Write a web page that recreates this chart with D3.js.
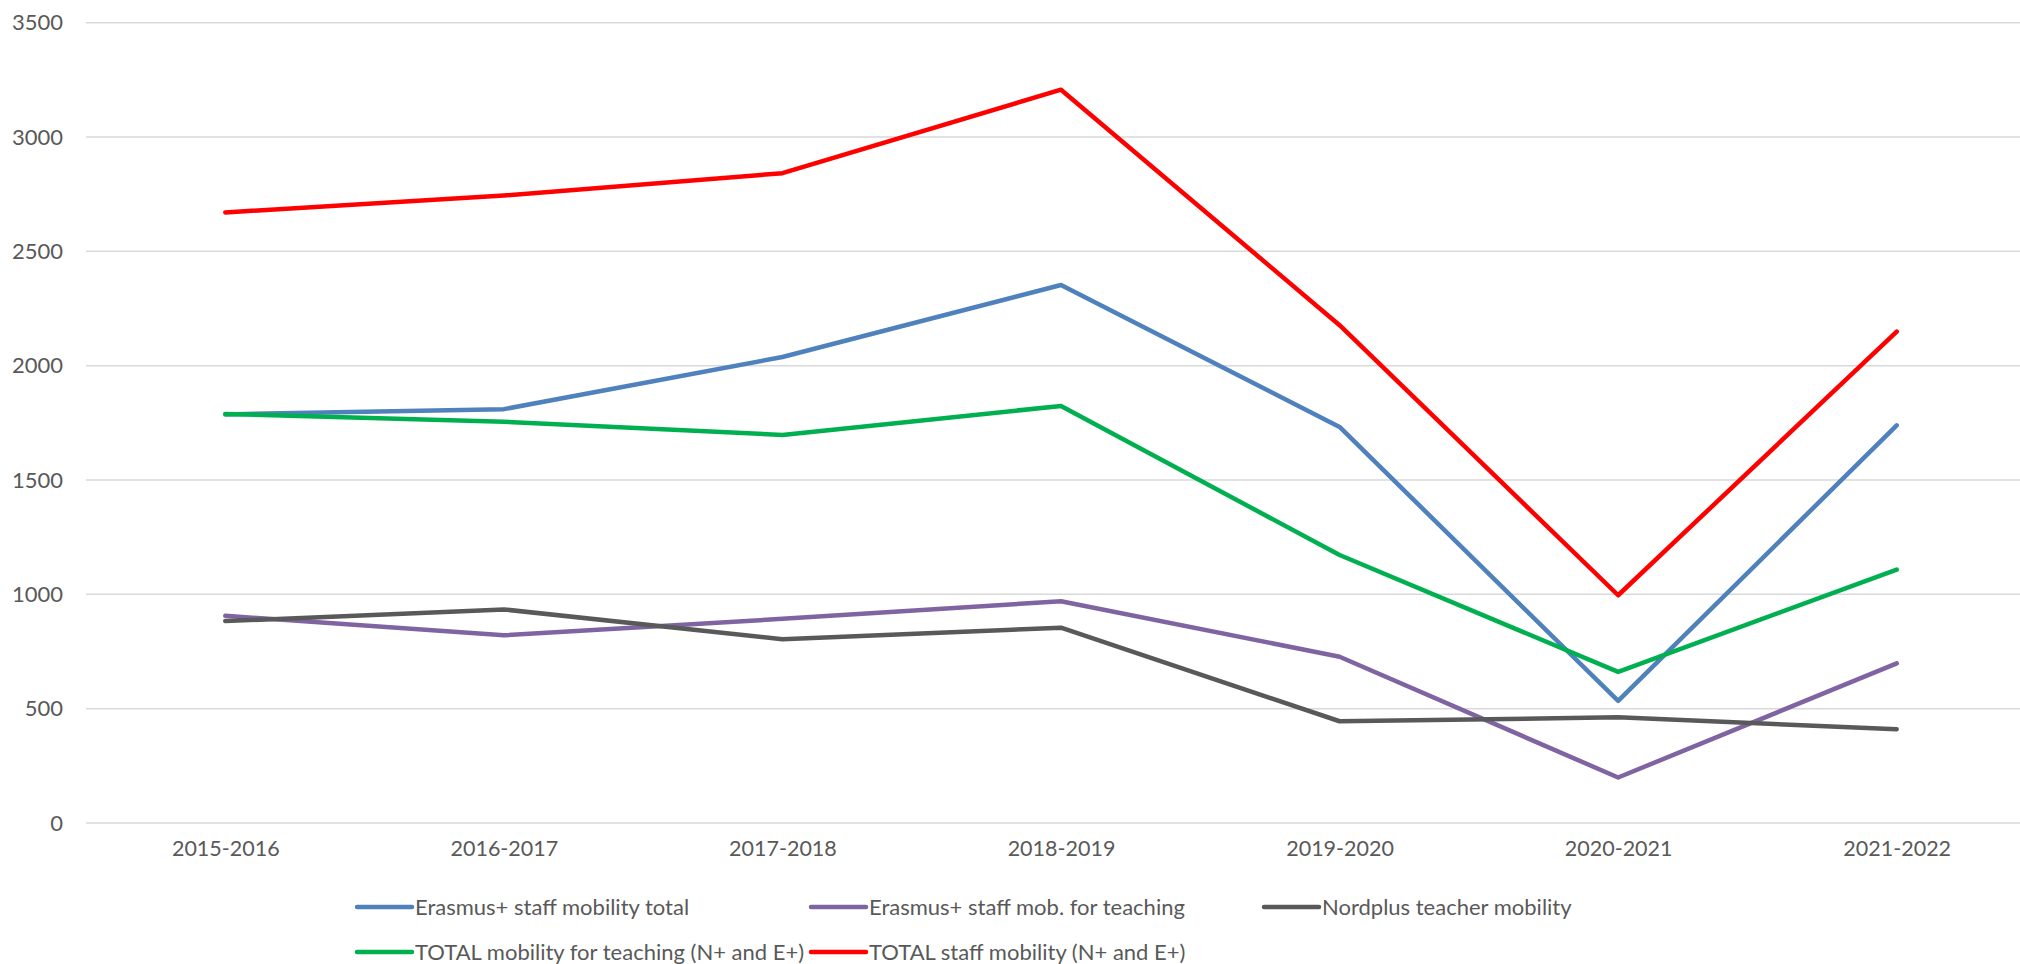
<!DOCTYPE html>
<html>
<head>
<meta charset="utf-8">
<script src="https://d3js.org/d3.v7.min.js"></script>
<style>
	body { margin: 0; background: #fff; }
	text { font-family: Lato, "Open Sans", sans-serif; fill: #595959; }
</style>
</head>
<body>
<svg id="canvas"></svg>
<script>
// school years on the x axis
const years = ["2015-2016", "2016-2017", "2017-2018", "2018-2019", "2019-2020", "2020-2021", "2021-2022"];
const yTicks = [0, 500, 1000, 1500, 2000, 2500, 3000, 3500];

// values
const erasmusTotal = [1787, 1810, 2038, 2353, 1732, 534, 1739];
const erasmusTeaching = [906, 821, 893, 970, 727, 199, 698];
const nordplusTeacher = [883, 934, 804, 854, 445, 462, 410];
const totalTeaching = [1789, 1755, 1697, 1824, 1172, 661, 1108];
const totalStaff = [2670, 2744, 2842, 3207, 2177, 996, 2149];

const seriesNames = ["Erasmus+ staff mobility total", "Erasmus+ staff mob. for teaching",
	"Nordplus teacher mobility", "TOTAL mobility for teaching (N+ and E+)", "TOTAL staff mobility (N+ and E+)"];
const seriesColors = ["#4F81BD", "#8064A2", "#595959", "#00B050", "#FF0000"];

const series = [erasmusTotal, erasmusTeaching, nordplusTeacher, totalTeaching, totalStaff]
	.map((values, i) => ({ name: seriesNames[i], color: seriesColors[i], values: values }));

const width = 2020, height = 964;
const svg = d3.select("#canvas").attr("width", width).attr("height", height);

const x = d3.scalePoint().domain(years).range([86, 2036]).padding(0.5);
const y = d3.scaleLinear().domain([0, 3500]).range([823, 22.7]);

// gridlines
svg.append("g")
	.selectAll("line")
	.data(yTicks)
	.enter().append("line")
	.attr("x1", 86).attr("x2", 2036)
	.attr("y1", d => y(d)).attr("y2", d => y(d))
	.attr("stroke", "#D9D9D9")
	.attr("stroke-width", 1.5);

// y axis labels
const yAxis = svg.append("g")
	.attr("transform", "translate(63,0)")
	.call(d3.axisLeft(y).tickValues(yTicks).tickFormat(d3.format("d")).tickSize(0).tickPadding(0));
yAxis.select(".domain").remove();
yAxis.selectAll("text").attr("font-size", 22).style("font-family", null).attr("fill", "#595959");

// x axis labels
const xAxis = svg.append("g")
	.attr("transform", "translate(0,841)")
	.call(d3.axisBottom(x).tickSize(0).tickPadding(0));
xAxis.select(".domain").remove();
xAxis.selectAll("text").attr("font-size", 21.5).style("font-family", null).attr("fill", "#595959");

const line = d3.line()
	.x((d, i) => x(years[i]))
	.y(d => y(d));

svg.append("g")
	.selectAll("path")
	.data(series)
	.enter().append("path")
	.attr("d", d => line(d.values))
	.attr("fill", "none")
	.attr("stroke", d => d.color)
	.attr("stroke-width", 4.5)
	.attr("stroke-linejoin", "round")
	.attr("stroke-linecap", "round");

// legend, two rows, three columns
const legendCols = [357, 811, 1264];
const legendRows = [907, 952];

const legend = svg.append("g")
	.selectAll("g")
	.data(series)
	.enter().append("g")
	.attr("transform", (d, i) => "translate(" + legendCols[i % 3] + "," + legendRows[Math.floor(i / 3)] + ")");

legend.append("line")
	.attr("x1", 0).attr("x2", 55)
	.attr("stroke", d => d.color)
	.attr("stroke-width", 4.5)
	.attr("stroke-linecap", "round");

legend.append("text")
	.attr("x", 58)
	.attr("dy", "0.35em")
	.attr("font-size", 22)
	.text(d => d.name);
</script>
</body>
</html>
